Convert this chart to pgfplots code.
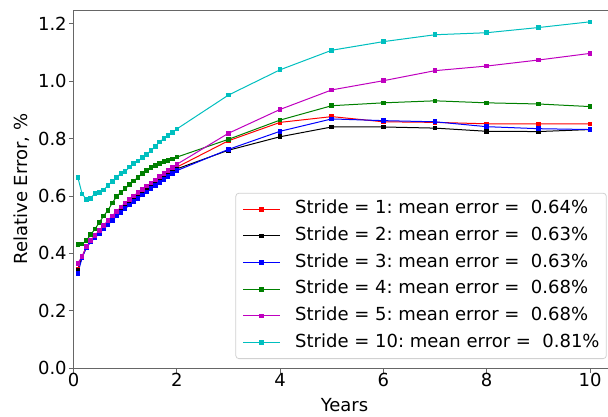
\documentclass[border=0pt]{standalone}
\usepackage{fontspec}
\setmainfont{DejaVu Sans}
\usepackage{pgfplots}
\usepackage{pgfplotstable}
\pgfplotsset{compat=1.18}
\frenchspacing

\definecolor{cR}{rgb}{1,0,0}
\definecolor{cK}{rgb}{0,0,0}
\definecolor{cB}{rgb}{0,0,1}
\definecolor{cG}{rgb}{0,0.5,0}
\definecolor{cM}{rgb}{0.75,0,0.75}
\definecolor{cC}{rgb}{0,0.75,0.75}

% relative error (%) against horizon (years) for each stride
\pgfplotstableread{
x      s1    s2    s3    s4    s5    s10
0.0833 0.345 0.340 0.331 0.430 0.365 0.665
0.1667 0.388 0.387 0.385 0.432 0.390 0.607
0.25   0.423 0.422 0.420 0.445 0.423 0.588
0.3333 0.444 0.442 0.440 0.465 0.445 0.592
0.4167 0.461 0.458 0.455 0.485 0.463 0.609
0.5    0.477 0.474 0.470 0.508 0.480 0.612
0.5833 0.493 0.490 0.485 0.530 0.497 0.620
0.6667 0.509 0.506 0.500 0.550 0.514 0.637
0.75   0.524 0.521 0.515 0.575 0.530 0.650
0.8333 0.539 0.536 0.530 0.598 0.546 0.665
0.9167 0.553 0.550 0.543 0.612 0.561 0.678
1.0    0.567 0.563 0.556 0.625 0.575 0.685
1.0833 0.580 0.576 0.568 0.640 0.588 0.700
1.1667 0.592 0.588 0.580 0.652 0.600 0.712
1.25   0.604 0.600 0.592 0.665 0.612 0.722
1.3333 0.616 0.612 0.603 0.677 0.623 0.733
1.4167 0.627 0.623 0.614 0.688 0.634 0.745
1.5    0.638 0.634 0.625 0.698 0.645 0.758
1.5833 0.649 0.645 0.636 0.706 0.656 0.772
1.6667 0.660 0.656 0.647 0.713 0.667 0.787
1.75   0.670 0.666 0.658 0.719 0.678 0.800
1.8333 0.680 0.676 0.668 0.724 0.689 0.810
1.9167 0.690 0.685 0.678 0.729 0.699 0.820
2.0    0.700 0.694 0.688 0.735 0.710 0.833
3      0.792 0.759 0.762 0.797 0.818 0.951
4      0.856 0.806 0.825 0.864 0.901 1.039
5      0.876 0.840 0.868 0.914 0.969 1.107
6      0.858 0.840 0.862 0.924 1.001 1.137
7      0.856 0.836 0.858 0.931 1.036 1.161
8      0.851 0.825 0.841 0.924 1.052 1.168
9      0.851 0.824 0.834 0.920 1.073 1.186
10     0.851 0.831 0.831 0.911 1.096 1.206
}\errtable

\begin{document}
\begin{tikzpicture}
\useasboundingbox (-73.5pt,-47.7pt) rectangle (534.5pt,368.3pt);
\begin{axis}[
  at={(0,0)}, anchor=south west,
  scale only axis, width=539.5pt, height=358.3pt,
  xmin=0, xmax=10.4453, ymin=0, ymax=1.2471,
  xtick={0,2,4,6,8,10},
  ytick={0,0.2,0.4,0.6,0.8,1.0,1.2},
  tick pos=left, tick align=outside,
  major tick length=4.6pt,
  axis line style={black!60, line width=0.8pt},
  every tick/.style={black!60, line width=0.8pt},
  /pgf/number format/assume math mode=true,
  tick label style={font=\fontsize{18}{21.6}\selectfont, black},
  xticklabel style={anchor=north, inner sep=0pt, yshift=-0.5pt},
  yticklabel style={anchor=east, inner sep=0pt, xshift=-2pt,
    /pgf/number format/.cd, fixed, fixed zerofill, precision=1},
  xlabel={Years},
  ylabel={Relative Error, \%},
  every axis x label/.style={at={(axis description cs:0.5023,0)}, anchor=north,
    inner sep=0pt, yshift=-29.7pt, font=\fontsize{18}{21.6}\selectfont},
  every axis y label/.style={at={(axis description cs:-0.0955,0.5)}, rotate=90,
    anchor=center, inner sep=0pt, font=\fontsize{18}{21.6}\selectfont},
  legend style={
    at={(0.98832,0.02596)}, anchor=south east,
    draw=black!18, rounded corners=3pt, fill=white, line width=0.8pt,
    font=\fontsize{18}{21.6}\selectfont,
    inner xsep=6.7pt, inner ysep=7.5pt,
    nodes={inner sep=0pt, text height=13.2pt, text depth=3.8pt},
    cells={anchor=west},
    column sep=15pt, row sep=9.67pt,
  },
  legend image code/.code={\draw[mark repeat=2,mark phase=2,#1] plot coordinates {(0pt,0pt) (18.35pt,0pt) (36.7pt,0pt)};},
  every axis plot/.append style={line width=1pt, mark=square*, mark size=1.8pt},
]
\addplot[cR, mark options={fill=cR}] table[x=x, y=s1] {\errtable};
\addlegendentry{Stride = 1: mean error = \ 0.64\%}
\addplot[cK, mark options={fill=cK}] table[x=x, y=s2] {\errtable};
\addlegendentry{Stride = 2: mean error = \ 0.63\%}
\addplot[cB, mark options={fill=cB}] table[x=x, y=s3] {\errtable};
\addlegendentry{Stride = 3: mean error = \ 0.63\%}
\addplot[cG, mark options={fill=cG}] table[x=x, y=s4] {\errtable};
\addlegendentry{Stride = 4: mean error = \ 0.68\%}
\addplot[cM, mark options={fill=cM}] table[x=x, y=s5] {\errtable};
\addlegendentry{Stride = 5: mean error = \ 0.68\%}
\addplot[cC, mark options={fill=cC}] table[x=x, y=s10] {\errtable};
\addlegendentry{Stride = 10: mean error = \ 0.81\%}
\end{axis}
\end{tikzpicture}
\end{document}
